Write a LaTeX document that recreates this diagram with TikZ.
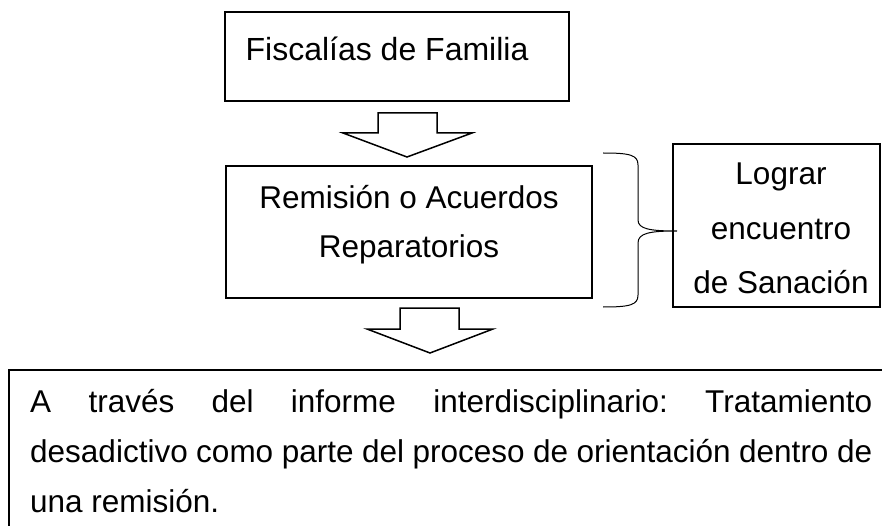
\documentclass[tikz,border=0pt]{standalone}
\usepackage{fontspec}
\setmainfont{Liberation Sans}
\frenchspacing
\begin{document}
\begin{tikzpicture}[x=1pt,y=-1pt,
  box/.style={draw=black,line width=1.8pt,rectangle,inner sep=0pt},
  txt/.style={inner sep=0pt,font=\fontsize{31.5}{38}\selectfont},
  blockarrow/.style={draw=black,line width=1.5pt,fill=white,line join=miter},
  bracepath/.style={draw=black,line width=1pt}]
\useasboundingbox (0,0) rectangle (882,526);
\clip (0,0) rectangle (882,526);
% boxes
\node[box,minimum width=344pt,minimum height=89pt] (top) at (397,56.5) {};
\node[box,minimum width=366pt,minimum height=132pt] (mid) at (409,232) {};
\node[box,minimum width=207pt,minimum height=163pt] (side) at (776.5,225.5) {};
\node[box,minimum width=891pt,minimum height=190pt] (bottom) at (454.5,465) {};
% texts
\node[txt,anchor=base,font=\fontsize{32}{38}\selectfont] (ttop) at (387,61) {Fiscalías de Familia};
\node[txt,anchor=base] (tmid1) at (409,209) {Remisión o Acuerdos};
\node[txt,anchor=base] (tmid2) at (409,258) {Reparatorios};
\node[txt,anchor=base] (ts1) at (781,185) {Lograr};
\node[txt,anchor=base] (ts2) at (781,240) {encuentro};
\node[txt,anchor=base] (ts3) at (781,294) {de Sanación};
\node[txt,anchor=base west] (tb1) at (30,412) {\makebox[842pt][s]{A través del informe interdisciplinario: Tratamiento}};
\node[txt,anchor=base west] (tb2) at (30,462) {\makebox[842pt][s]{desadictivo como parte del proceso de orientación dentro de}};
\node[txt,anchor=base west] (tb3) at (30,512) {una remisión.};
% block arrows
\draw[blockarrow] (378,113) -- (437,113) -- (437,133) -- (472,133) -- (407,157) -- (343,133) -- (378,133) -- cycle;
\draw[blockarrow] (400,308) -- (459,308) -- (459,329) -- (493,329) -- (430,353) -- (367,329) -- (400,329) -- cycle;
% brace
\coordinate (btip) at (677,231);
\draw[bracepath] (603,153) .. controls (630,153) and (638,155) .. (638,165) -- (638,220)
  .. controls (638,229) and (650,231) .. (btip)
  .. controls (650,231) and (638,233) .. (638,243) -- (638,295)
  .. controls (638,305) and (630,307) .. (603,307);
\end{tikzpicture}
\end{document}
